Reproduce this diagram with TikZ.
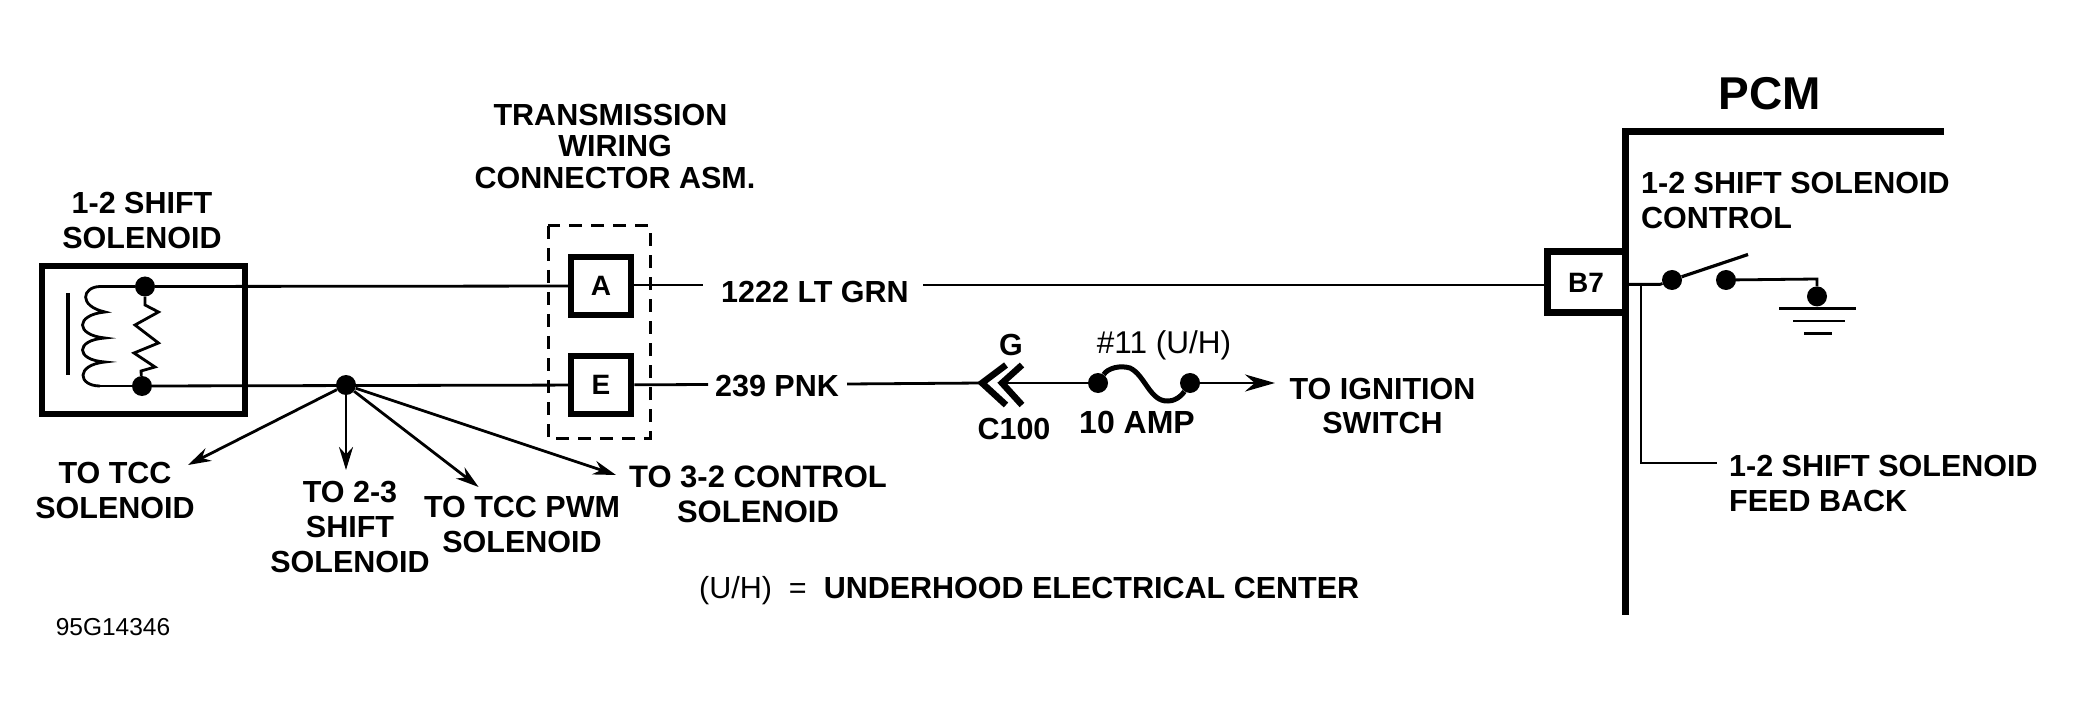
\documentclass[tikz,border=0pt]{standalone}
\usepackage{fontspec}
\setmainfont{Liberation Sans}
\usetikzlibrary{arrows.meta}
\tikzset{
  lbl/.style={font=\bfseries\fontsize{30.5}{35}\selectfont,align=center,inner sep=0pt,text=black},
  lblleft/.style={lbl,align=left,anchor=west},
  thin lbl/.style={font=\fontsize{31.5}{35}\selectfont,align=center,inner sep=0pt},
  wire/.style={line width=2.8pt,draw=black},
  heavy/.style={line width=7pt,draw=black},
  pinbox/.style={draw=black,line width=6.5pt,inner sep=0pt,minimum width=60pt,minimum height=58pt,font=\bfseries\fontsize{28}{30}\selectfont},
  blob/.style={circle,fill=black,inner sep=0pt,minimum size=20pt},
  branch/.style={wire,-{Stealth[length=23pt,width=14pt]}},
}
\begin{document}
\begin{tikzpicture}[x=1pt,y=-1pt]
\useasboundingbox (0,0) rectangle (2075,711);
\fill[white] (0,0) rectangle (2075,711);

% solenoid
\node[draw=black,line width=6pt,inner sep=0pt,minimum width=203pt,minimum height=148pt] (sol) at (143.5,340) {};
\node[lbl] (solname) at (142,220.5) {1-2 SHIFT\\SOLENOID};
\node[blob] (st) at (145,286.5) {};
\node[blob] (sb) at (142,386) {};
\coordinate (coilA) at (100,286.5);
\coordinate (coilB) at (100,386);
\draw[wire] (coilA) .. controls (82,287) and (78,306) .. (105,312)
   .. controls (75,315) and (75,335) .. (105,338)
   .. controls (75,340) and (75,360) .. (105,362)
   .. controls (75,365) and (78,386) .. (coilB);
\draw[wire] (coilA) -- (st);
\draw[wire] (coilB) -- (sb);
\draw[line width=3.5pt] (68,293) -- (68,375);
\draw[wire,line join=miter] (st) -- (145,305) -- (158.5,312) -- (135,325) -- (158.5,343) -- (134,353) -- (155,367) -- (141,371) -- (sb);

% connector assembly
\node[lbl,font=\bfseries\fontsize{30.5}{31.5}\selectfont] (conname) at (615,146.5) {TRANSMISSION\hspace*{9pt}\\WIRING\\CONNECTOR ASM.};
\draw[line width=3pt,dash pattern=on 13pt off 9pt] (548,226) rectangle (650,438);
\node[pinbox] (A) at (601,286) {A};
\node[pinbox] (E) at (601,385) {E};
\draw[wire] (st) -- (A);
\draw[wire] (sb) -- (E);

% branch junction
\node[blob] (j) at (346,385) {};
\coordinate (tTcc) at (188,465);
\coordinate (t23) at (346,470);
\coordinate (tPwm) at (478.6,487);
\coordinate (t32) at (616,475);
\draw[branch] (j) -- (tTcc);
\draw[branch] (j) -- (t23);
\draw[branch] (j) -- (tPwm);
\draw[branch] (j) -- (t32);
\node[lbl] (ltcc) at (115,490.5) {TO TCC\\SOLENOID};
\node[lbl] (l23) at (350,527) {TO 2-3\\SHIFT\\SOLENOID};
\node[lbl] (lpwm) at (522,524.5) {TO TCC PWM\\SOLENOID};
\node[lbl,font=\bfseries\fontsize{31}{35}\selectfont] (l32) at (758,494.5) {TO 3-2 CONTROL\\SOLENOID};

% top wire
\node[lbl] (grn) at (815,292) {1222 LT GRN};
\coordinate (gl) at (703,285);
\coordinate (gr) at (923,285);
\draw[wire] (A.east |- gl) -- (gl);

% bottom wire
\node[lbl] (pnk) at (777,386) {239 PNK};
\coordinate (pl) at (708,384.5);
\coordinate (pr) at (847,384);
\draw[wire] (E) -- (pl);
\coordinate (ch1) at (982,383);
\coordinate (ch2) at (1002,383);
\draw[wire] (pr) -- (ch1);
\draw[line width=6.5pt,miter limit=4] (1006,365) -- (ch1) -- (1006,405);
\draw[line width=6.5pt,miter limit=4] (1022,365) -- (ch2) -- (1022,405);
\node[lbl] (g) at (1011,345) {G};
\node[lbl] (c100) at (1014,429) {C100};

% fuse
\node[blob] (f1) at (1098,383) {};
\node[blob] (f2) at (1190,383) {};
\draw[wire] (ch2) -- (f1);
\draw[line width=5pt] (f1) .. controls (1108,368) and (1120,365) .. (1130,368)
  .. controls (1145,375) and (1150,402) .. (1168,401)
  .. controls (1178,401) and (1184,392) .. (f2);
\node[thin lbl] (fn) at (1164,345) {\#11 (U/H)};
\node[lbl,font=\bfseries\fontsize{32}{35}\selectfont] (amp) at (1137,422) {10 AMP};
\coordinate (ign) at (1275,383);
\draw[wire,-{Stealth[length=30pt,width=17pt]}] (f2) -- (ign);
\node[lbl] (lign) at (1382.5,406) {TO IGNITION\\SWITCH};

% legend
\node[lblleft] (legend) at (699,590.5) {{\mdseries (U/H)\ \ =\ \ }UNDERHOOD ELECTRICAL CENTER};
\node[inner sep=0pt,anchor=west,font=\fontsize{24.5}{30}\selectfont] (code) at (55.6,627) {95G14346};

% PCM
\node[lbl,font=\bfseries\fontsize{46}{50}\selectfont] (pcm) at (1770,93.5) {PCM};
\coordinate (pcmc) at (1625,131.6);
\coordinate (pcmr) at (1944,131.6);
\coordinate (pcmb) at (1625,614.5);
\draw[heavy,line cap=butt,line join=miter] (pcmr) -- (pcmc) -- (pcmb);
\node[lblleft] (ctl) at (1641,201) {1-2 SHIFT SOLENOID\\CONTROL};
\node[draw=black,line width=7pt,inner sep=0pt,minimum width=78pt,minimum height=61pt,font=\bfseries\fontsize{28}{30}\selectfont] (b7) at (1586,282.4) {B7};
\draw[wire] (gr) -- (b7.west |- gr);

% switch
\node[blob] (s1) at (1672,280) {};
\node[blob] (s2) at (1726,280) {};
\coordinate (arm) at (1748,254.5);
\coordinate (fbt) at (1641,284.4);
\coordinate (pin) at (1628,284.4);
\draw[wire] (pin) -- (1660,284.4) -- (s1);
\draw[line width=3.2pt] (s1) -- (arm);
\node[blob] (gnd) at (1817,296.4) {};
\draw[wire] (s2) -- (1817,279) -- (gnd);
\draw[line width=3.2pt] (1779,308.4) -- (1856,308.4);
\draw[line width=2.6pt] (1793,321) -- (1845,321);
\draw[line width=2.6pt] (1804,333.5) -- (1832,333.5);

% feedback
\coordinate (fbc) at (1641,463);
\coordinate (fbe) at (1717,463);
\draw[wire,line join=miter] (fbt) -- (fbc) -- (fbe);
\node[lblleft] (fb) at (1729,483) {1-2 SHIFT SOLENOID\\FEED BACK};
\end{tikzpicture}
\end{document}
